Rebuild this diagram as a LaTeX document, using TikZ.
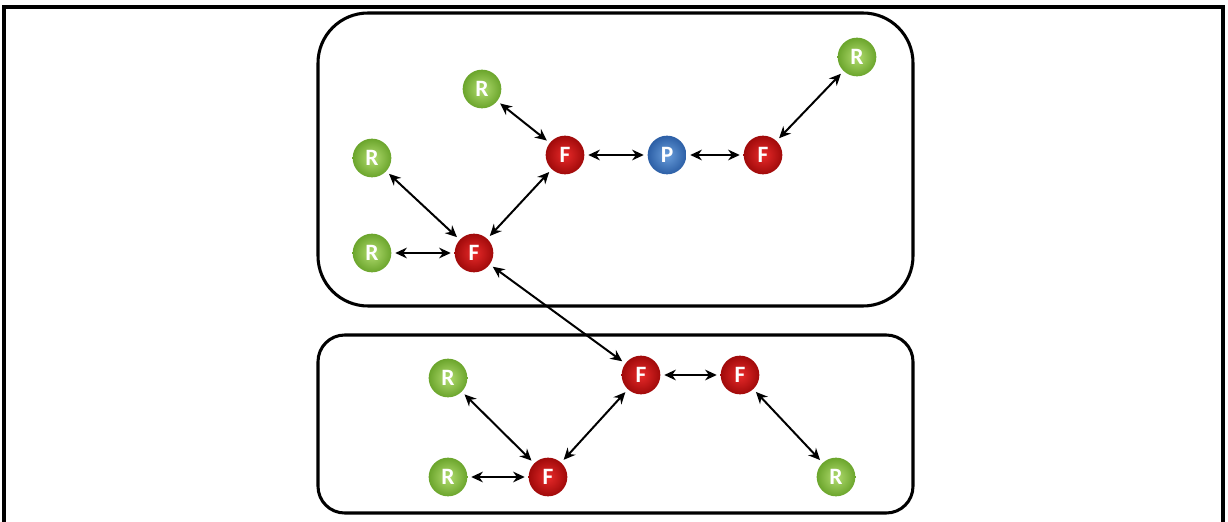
\documentclass[tikz,border=0pt]{standalone}
\usepackage{fontspec}
\setsansfont{Carlito}
\usetikzlibrary{arrows.meta}
\definecolor{rin}{HTML}{B2DC70}
\definecolor{rout}{HTML}{6BA52C}
\definecolor{fin}{HTML}{E82A2A}
\definecolor{fout}{HTML}{A00A0A}
\definecolor{pin}{HTML}{6A9EDB}
\definecolor{pout}{HTML}{2C5FA6}
\tikzset{
  ballnode/.style={circle, minimum size=11.6mm, inner sep=0pt, text=white,
    font=\sffamily\bfseries\fontsize{20}{20}\selectfont, shading=radial},
  rnode/.style={ballnode, inner color=rin, outer color=rout},
  fnode/.style={ballnode, inner color=fin, outer color=fout},
  pnode/.style={ballnode, inner color=pin, outer color=pout},
  link/.style={line width=1.7pt, {Stealth[length=3.5mm,width=3.2mm]}-{Stealth[length=3.5mm,width=3.2mm]}, shorten >=1.1mm, shorten <=1.1mm},
  group/.style={line width=2.6pt, draw=black}
}
\begin{document}
\begin{tikzpicture}[x=0.3mm, y=-0.3mm]
  \useasboundingbox (0,0) rectangle (1228,522);
  % frame, open at the bottom
  \draw[line width=3.2pt] (4,522) -- (4,7) -- (1223,7) -- (1223,522);
  % groups
  \draw[group, rounded corners=15mm] (318,13) rectangle (913,306);
  \draw[group, rounded corners=8mm] (318,335) rectangle (913,513);
  % upper group nodes
  \node[rnode] (r1) at (482,89) {R};
  \node[rnode] (r2) at (372,158) {R};
  \node[rnode] (r3) at (372,253) {R};
  \node[fnode] (f1) at (565,155) {F};
  \node[pnode] (p)  at (667,155) {P};
  \node[fnode] (f2) at (763,155) {F};
  \node[rnode] (r4) at (857,57) {R};
  \node[fnode] (f3) at (474,253) {F};
  % lower group nodes
  \node[fnode] (f4) at (641,375) {F};
  \node[fnode] (f5) at (740,375) {F};
  \node[rnode] (r5) at (448,378) {R};
  \node[rnode] (r6) at (448,477) {R};
  \node[fnode] (f6) at (548,477) {F};
  \node[rnode] (r7) at (836,477) {R};
  % links
  \draw[link] (r1) -- (f1);
  \draw[link] (r2) -- (f3);
  \draw[link] (r3) -- (f3);
  \draw[link] (f3) -- (f1);
  \draw[link] (f1) -- (p);
  \draw[link] (p) -- (f2);
  \draw[link] (f2) -- (r4);
  \draw[link] (f3) -- (f4);
  \draw[link] (f4) -- (f5);
  \draw[link] (f5) -- (r7);
  \draw[link] (r5) -- (f6);
  \draw[link] (r6) -- (f6);
  \draw[link] (f6) -- (f4);
\end{tikzpicture}
\end{document}
